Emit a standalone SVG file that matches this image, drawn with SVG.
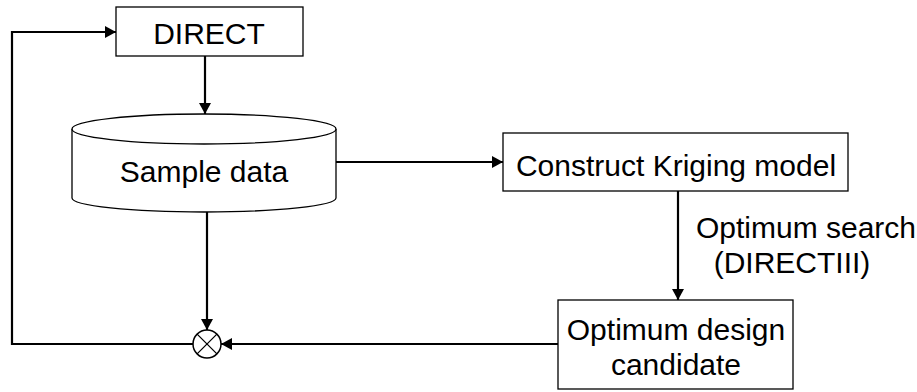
<svg xmlns="http://www.w3.org/2000/svg" width="917" height="392" viewBox="0 0 917 392">
<style>
.box{fill:#fff;stroke:#000;stroke-width:1.3}
.t{font-family:"Liberation Sans",Arial,sans-serif;font-size:30px;fill:#000;text-anchor:middle}
.c{fill:none;stroke:#000;stroke-width:2.2}
</style>
<defs>
<marker id="ah" markerUnits="userSpaceOnUse" markerWidth="12" markerHeight="12" viewBox="0 0 11 12" refX="11" refY="6" orient="auto">
<path d="M0,0 L11,6 L0,12 Z" fill="#000"/>
</marker>
</defs>
<rect width="917" height="392" fill="#fff"/>
<g id="connectors">
<path class="c" d="M205,56 V114" marker-end="url(#ah)"/>
<path class="c" d="M193,344 H12 V32 H116" marker-end="url(#ah)"/>
<path class="c" d="M336,162 H503" marker-end="url(#ah)"/>
<path class="c" d="M678,191 V300" marker-end="url(#ah)"/>
<path class="c" d="M207,212 V330" marker-end="url(#ah)"/>
<path class="c" d="M558,344 H221" marker-end="url(#ah)"/>
</g>
<g id="direct">
<rect class="box" x="116" y="7" width="187" height="49"/>
<text class="t" x="209" y="44">DIRECT</text>
</g>
<g id="sample-data">
<path class="box" d="M72,129 V198 A132,14 0 0 0 336,198 V129"/>
<ellipse class="box" cx="204" cy="129" rx="132" ry="15"/>
<text class="t" x="204" y="182">Sample data</text>
</g>
<g id="kriging">
<rect class="box" x="503" y="133" width="345" height="58"/>
<text class="t" x="676" y="176">Construct Kriging model</text>
</g>
<g id="search-label">
<text class="t" x="806" y="238">Optimum search</text>
<text class="t" x="792" y="273">(DIRECTIII)</text>
</g>
<g id="candidate">
<rect class="box" x="558" y="300" width="235" height="89"/>
<text class="t" x="676" y="340">Optimum design</text>
<text class="t" x="676" y="375">candidate</text>
</g>
<g id="junction">
<circle cx="207" cy="344" r="14" fill="#fff" stroke="#000" stroke-width="1.5"/>
<path d="M197.1,334.1 L216.9,353.9 M216.9,334.1 L197.1,353.9" stroke="#000" stroke-width="1.3"/>
</g>
</svg>
